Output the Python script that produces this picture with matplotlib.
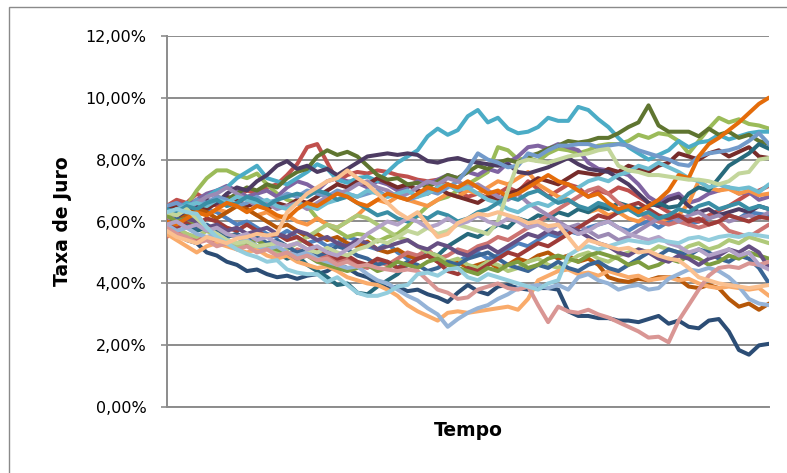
import numpy as np
import matplotlib
matplotlib.use("Agg")
import matplotlib.pyplot as plt
from matplotlib.patches import Rectangle
from matplotlib.ticker import FuncFormatter

# Simulated interest-rate paths (% values)
s01 = [6.1,6.3,6.0,6.2,6.4,6.3,6.1,5.9,6.0,5.8,5.6,5.5,5.7,5.5,5.3,5.4,5.2,5.3,5.5,5.4,5.2,5.1,5.3,5.0,4.8,4.9,5.0,4.8,4.6,4.7,4.9,5.0,4.8,4.9,5.1,5.3,5.2,5.4,5.6,5.5,5.7,5.6,5.8,5.9,6.0,5.8,5.7,5.9,6.0,5.8,6.0,6.1,5.9,6.0,6.1,6.25,6.2,6.1,6.3,6.25,6.2]
s02 = [6.5,6.7,6.6,6.9,6.7,6.5,6.6,6.8,7.0,6.9,7.1,7.2,7.5,7.85,8.4,8.5,7.9,7.3,7.5,7.6,7.55,7.65,7.6,7.5,7.45,7.35,7.3,7.35,7.2,7.0,6.8,6.9,6.75,6.9,7.1,6.95,7.3,7.05,6.8,7.0,7.2,7.1,6.8,7.0,6.9,7.1,7.0,6.8,6.6,6.5,6.3,6.2,6.1,6.0,6.2,6.35,6.5,6.7,6.9,7.0,7.15]
s03 = [6.1,6.3,6.5,7.0,7.4,7.65,7.65,7.5,7.4,7.55,7.2,6.9,6.7,6.6,6.5,6.1,5.9,5.7,5.5,5.6,5.55,5.35,5.5,5.6,5.85,6.2,6.5,6.7,6.8,7.0,7.2,7.4,7.6,8.4,8.3,8.0,8.05,7.95,8.2,8.35,8.3,8.2,8.3,8.45,8.5,8.5,8.6,8.8,8.7,8.85,8.8,8.6,8.2,8.6,9.0,9.35,9.2,9.3,9.15,9.1,9.0]
s04 = [6.4,6.6,6.5,6.7,6.9,7.0,7.15,7.0,6.8,6.9,7.0,6.8,7.1,7.3,7.2,7.0,7.3,7.4,7.3,7.25,7.1,7.3,7.2,7.0,7.1,7.3,7.2,7.35,7.5,7.4,7.6,7.5,7.7,7.6,7.9,8.1,8.4,8.45,8.35,8.5,8.4,8.3,7.9,7.7,7.65,7.6,7.5,7.2,6.8,6.6,6.8,6.9,6.6,6.7,6.9,7.0,7.1,6.9,6.95,6.7,6.8]
s05 = [6.3,6.4,6.6,6.5,6.8,7.0,7.1,7.4,7.6,7.8,7.4,7.3,7.2,7.4,7.6,7.85,7.7,7.35,7.25,7.4,7.45,7.3,7.6,7.9,8.1,8.3,8.75,9.0,8.8,8.95,9.4,9.6,9.2,9.35,9.0,8.85,8.9,9.05,9.35,9.25,9.25,9.7,9.6,9.3,9.05,8.7,8.4,8.2,8.0,8.15,8.3,8.6,8.4,8.55,8.6,8.8,8.65,8.75,8.85,8.9,8.9]
s06 = [6.0,6.2,6.1,6.3,6.2,6.4,6.3,6.5,6.4,6.2,6.3,6.1,6.2,6.0,5.9,6.1,5.9,5.8,6.0,6.2,6.5,6.7,6.6,6.8,6.7,6.6,6.5,6.7,6.9,6.8,7.0,6.9,7.1,7.3,7.2,7.4,7.6,7.2,7.0,6.8,6.7,6.5,6.3,6.4,6.2,6.3,6.1,6.0,6.2,6.0,6.1,6.2,6.6,7.3,7.1,7.0,7.05,6.9,7.0,6.85,6.9]
s07 = [5.8,5.6,5.4,5.3,5.0,4.9,4.7,4.6,4.4,4.45,4.3,4.2,4.25,4.15,4.25,4.3,4.4,4.6,4.5,4.3,4.2,4.0,3.85,3.9,3.75,3.8,3.65,3.55,3.4,3.7,3.95,3.75,3.65,3.9,3.95,3.85,3.8,3.85,3.85,3.8,3.1,2.95,2.95,2.88,2.88,2.8,2.8,2.75,2.85,2.95,2.7,2.8,2.6,2.55,2.8,2.85,2.45,1.85,1.7,2.0,2.05]
s08 = [6.4,6.5,6.3,6.5,6.4,6.6,6.8,6.7,6.5,6.6,6.4,6.6,6.5,6.7,6.6,6.8,7.0,7.2,7.1,7.3,7.2,7.4,7.25,7.1,7.2,7.0,6.9,7.1,6.9,6.8,6.7,6.6,6.8,6.7,6.9,7.0,7.2,7.4,7.3,7.2,7.4,7.6,7.55,7.5,7.7,7.6,7.8,7.7,7.6,7.8,7.9,8.2,8.1,8.0,8.2,8.3,8.1,8.25,8.4,8.1,8.05]
s09 = [6.2,6.4,6.3,6.6,6.5,6.8,6.7,6.9,7.1,7.0,7.2,7.1,7.4,7.6,7.7,8.1,8.3,8.15,8.25,8.1,7.8,7.5,7.35,7.4,7.2,7.25,7.1,7.3,7.5,7.4,7.6,7.8,7.7,7.9,8.0,7.9,8.1,8.2,8.35,8.45,8.6,8.55,8.6,8.7,8.7,8.85,9.05,9.2,9.75,9.1,8.9,8.9,8.9,8.75,9.0,8.8,8.9,8.7,8.8,8.6,8.5]
s10 = [6.2,6.0,6.3,6.5,6.7,6.6,6.9,7.1,7.0,7.3,7.5,7.8,7.95,7.7,7.8,7.6,7.7,7.5,7.7,7.9,8.1,8.15,8.2,8.15,8.2,8.15,7.95,7.9,8.0,8.05,7.95,7.9,7.85,7.8,7.85,7.6,7.55,7.65,7.75,7.9,8.05,7.85,7.7,7.65,7.6,7.4,7.2,6.9,6.6,6.5,6.7,6.8,6.5,6.3,6.4,6.2,6.3,6.4,6.3,6.5,6.4]
s11 = [6.0,6.1,5.9,5.7,5.8,5.6,5.5,5.6,5.4,5.2,5.3,5.0,4.8,4.9,4.6,4.4,4.2,3.95,4.0,3.7,3.65,3.9,4.1,4.3,4.6,4.8,5.0,4.9,5.2,5.4,5.6,5.5,5.7,5.9,5.8,6.1,6.0,6.2,6.1,6.3,6.2,6.4,6.3,6.5,6.4,6.6,6.5,6.4,6.5,6.6,6.45,6.5,6.9,7.1,7.0,7.4,7.8,8.0,8.2,8.5,8.35]
s12 = [6.2,6.0,6.2,6.4,6.3,6.1,6.3,6.5,6.4,6.2,6.0,5.8,5.9,5.7,5.5,5.6,5.4,5.5,5.3,5.2,5.35,5.1,5.0,5.1,4.9,4.8,4.9,4.7,4.6,4.7,4.5,4.6,4.7,4.5,4.6,4.8,4.7,4.9,5.0,4.8,4.9,4.7,4.8,4.6,4.2,4.1,4.05,4.15,4.1,4.2,4.2,4.15,3.9,3.85,3.95,3.85,3.5,3.25,3.35,3.15,3.35]
s13 = [6.5,6.6,6.4,6.7,6.6,6.8,6.7,6.5,6.6,6.8,6.6,6.7,6.9,6.8,7.0,6.9,6.8,7.0,6.9,6.8,6.9,7.0,6.8,6.9,6.7,6.8,7.0,6.9,7.1,7.3,7.7,8.2,8.0,7.9,7.75,7.8,8.2,8.1,8.3,8.45,8.45,8.5,8.5,8.4,8.45,8.5,8.45,8.3,8.2,8.1,8.0,7.85,7.8,8.1,8.2,8.25,8.3,8.4,8.6,8.85,8.5]
s14 = [5.5,5.7,5.6,5.4,5.5,5.3,5.4,5.2,5.3,5.1,5.2,5.0,4.9,5.1,5.0,4.8,4.9,4.7,4.8,4.6,4.5,4.7,4.6,4.8,5.0,4.9,5.1,4.8,4.9,5.1,5.0,5.2,5.3,5.5,5.4,5.6,5.8,6.0,6.2,6.4,6.6,6.8,7.0,7.1,6.9,6.6,6.4,6.3,6.1,6.0,5.9,6.0,5.9,5.8,5.9,6.0,5.7,5.6,5.5,5.7,5.9]
s15 = [6.0,5.8,5.6,5.5,5.7,5.5,5.3,5.2,5.3,5.1,5.2,5.0,5.1,5.3,5.5,5.7,5.9,5.8,6.0,6.2,6.1,5.9,5.7,5.5,5.4,5.2,5.0,4.9,4.7,4.8,4.6,4.5,4.7,4.6,4.4,4.5,4.7,4.8,4.6,4.5,4.7,4.9,5.0,4.8,4.7,4.9,5.0,5.1,5.0,5.2,5.1,5.0,5.2,5.3,5.1,5.2,5.4,5.3,5.5,5.4,5.3]
s16 = [6.0,6.2,6.4,6.6,6.8,6.9,7.1,6.9,6.7,6.5,6.6,6.4,6.5,6.6,6.4,6.6,6.8,6.9,7.0,7.2,7.3,7.1,7.0,6.8,6.9,7.1,7.3,7.2,7.4,7.3,7.1,7.2,7.0,6.8,6.7,6.9,6.6,6.4,6.2,6.0,5.8,5.9,5.7,5.5,5.6,5.4,5.5,5.7,5.9,6.1,6.2,6.0,6.2,6.3,6.1,6.2,6.0,6.1,6.2,6.1,6.3]
s17 = [6.2,6.4,6.5,6.6,6.5,6.7,6.6,6.8,6.7,6.6,6.7,6.5,6.4,6.6,6.5,6.4,6.6,6.7,6.9,6.8,7.0,6.9,6.8,6.9,7.0,6.8,6.9,7.1,7.2,7.0,7.1,6.9,6.7,6.6,6.4,6.3,6.5,6.6,6.5,6.7,6.9,7.1,7.3,7.4,7.3,7.5,7.6,7.8,7.7,7.9,7.75,7.6,7.4,7.3,7.1,7.2,7.1,7.05,7.1,6.95,7.2]
s18 = [5.6,5.4,5.2,5.0,5.2,5.3,5.2,5.1,5.0,5.1,4.9,4.8,4.9,4.7,4.6,4.5,4.55,4.4,4.2,4.1,4.0,3.95,3.8,3.6,3.3,3.1,2.95,2.8,3.05,3.1,3.05,3.1,3.15,3.2,3.25,3.15,3.5,4.1,4.25,4.4,4.45,4.3,4.35,4.25,4.4,4.3,4.2,4.25,4.1,4.15,4.2,4.1,4.15,4.0,3.9,3.85,3.9,3.85,3.8,3.85,3.6]
s19 = [5.9,6.1,6.0,5.8,5.9,5.7,5.5,5.6,5.4,5.5,5.3,5.4,5.2,5.0,5.1,4.9,5.0,5.2,5.1,4.9,4.8,4.6,4.7,4.5,4.7,4.6,4.4,4.5,4.7,4.6,4.8,4.9,5.0,4.8,4.6,4.5,4.4,4.6,4.5,4.7,4.5,4.4,4.6,4.7,4.5,4.4,4.6,4.8,5.0,4.9,5.1,5.0,4.9,5.1,5.0,4.8,4.7,4.9,4.8,4.5,4.0]
s20 = [6.0,5.8,6.0,5.9,6.1,6.0,5.8,5.7,5.9,5.7,5.5,5.6,5.4,5.5,5.3,5.1,5.0,4.8,4.9,4.7,4.6,4.8,4.7,4.5,4.6,4.8,4.9,4.7,4.4,4.3,4.5,4.4,4.6,4.8,5.0,4.9,5.1,5.3,5.2,5.4,5.6,5.8,6.0,6.2,6.1,6.3,6.5,6.6,6.4,6.2,6.1,6.2,6.0,6.1,5.9,6.0,6.2,6.1,6.0,6.15,6.1]
s21 = [6.2,6.0,6.1,5.9,5.7,5.8,5.6,5.5,5.3,5.4,5.2,5.1,5.0,4.8,4.9,4.7,4.6,4.5,4.4,4.5,4.6,4.4,4.5,4.7,4.6,4.5,4.7,4.8,4.6,4.5,4.4,4.3,4.5,4.4,4.6,4.7,4.5,4.6,4.8,4.9,4.8,4.7,4.9,5.0,4.9,4.8,4.6,4.7,4.5,4.6,4.8,4.7,4.9,4.8,4.6,4.7,4.9,4.8,5.0,4.9,4.8]
s22 = [6.0,5.9,6.1,6.0,5.8,5.9,5.7,5.8,5.6,5.7,5.8,5.6,5.5,5.7,5.6,5.4,5.5,5.3,5.2,5.4,5.3,5.1,5.2,5.3,5.4,5.2,5.1,5.3,5.2,5.0,4.9,5.1,5.2,5.0,5.2,5.4,5.6,5.5,5.7,5.6,5.8,5.7,5.5,5.3,5.2,5.0,4.9,5.1,5.0,4.8,4.7,4.9,4.8,4.6,4.8,4.9,5.1,5.0,5.2,5.0,4.5]
s23 = [6.4,6.3,6.5,6.4,6.6,6.7,6.5,6.6,6.8,6.7,6.5,6.7,6.8,6.9,6.8,7.0,6.9,6.7,6.8,6.6,6.4,6.2,6.3,6.1,6.0,6.2,6.1,6.3,6.2,6.0,6.1,6.3,6.4,6.6,6.8,6.7,6.9,7.0,6.8,6.6,6.7,6.5,6.4,6.6,6.5,6.3,6.4,6.2,6.3,6.1,6.2,6.4,6.3,6.5,6.6,6.4,6.5,6.6,6.4,6.5,6.4]
s24 = [6.0,5.9,6.1,6.3,6.2,6.4,6.6,6.5,6.3,6.5,6.4,6.2,6.1,6.4,6.6,6.5,6.7,6.9,6.8,6.6,6.5,6.7,6.9,6.8,6.7,6.9,7.1,7.0,7.2,7.1,7.3,7.1,6.9,7.0,6.8,6.9,7.1,7.3,7.5,7.3,7.2,7.0,6.8,6.9,6.6,6.4,6.5,6.3,6.5,6.7,7.0,7.5,7.4,8.1,8.5,8.7,8.95,9.2,9.5,9.8,10.0]
s25 = [5.9,5.7,5.8,5.6,5.5,5.6,5.4,5.3,5.4,5.2,5.1,5.2,5.0,4.9,5.0,4.8,4.7,4.6,4.5,4.55,4.3,4.1,4.0,3.8,3.6,3.45,3.2,3.0,2.6,2.85,3.05,3.2,3.3,3.5,3.65,3.85,3.9,3.95,3.85,3.95,3.8,4.2,4.3,4.1,4.0,3.8,3.9,3.95,3.8,3.85,4.15,4.3,4.45,4.4,4.5,4.4,4.2,3.9,3.5,3.35,3.3]
s26 = [5.8,5.6,5.5,5.3,5.4,5.2,5.3,5.1,5.2,5.0,5.1,4.9,5.0,4.8,4.9,4.75,4.8,4.6,4.7,4.55,4.6,4.5,4.45,4.4,4.45,4.4,4.1,3.8,3.7,3.5,3.55,3.8,3.9,4.0,3.85,3.8,3.9,3.3,2.75,3.25,3.1,3.05,3.15,3.0,2.9,2.75,2.6,2.45,2.25,2.28,2.1,2.8,3.3,3.8,4.25,4.5,4.55,4.5,4.65,4.6,4.7]
s27 = [6.3,6.2,6.4,6.1,5.8,5.6,5.4,5.3,5.35,5.2,5.25,5.3,5.2,5.3,5.1,5.0,5.15,5.0,4.9,5.1,5.2,5.4,5.3,5.5,5.7,5.6,5.8,5.6,5.7,5.9,5.8,5.7,5.6,6.0,7.0,7.9,8.0,7.95,7.9,8.0,8.1,8.15,8.2,8.3,8.35,7.8,7.65,7.6,7.5,7.5,7.45,7.4,7.35,7.35,7.3,7.2,7.3,7.55,7.6,8.0,8.05]
s28 = [5.9,6.0,5.8,5.9,5.7,5.8,5.6,5.5,5.6,5.4,5.5,5.3,5.2,5.3,5.1,5.2,5.0,4.9,5.1,5.3,5.6,5.8,6.0,5.9,6.1,6.0,5.8,5.9,6.1,5.9,6.0,6.2,6.0,5.9,6.1,6.0,5.8,5.9,5.7,5.9,5.8,5.6,5.7,5.9,6.0,5.8,5.6,5.5,5.4,5.5,5.3,5.2,5.0,5.1,4.9,5.0,5.1,4.9,5.0,4.6,4.45]
s29 = [6.3,6.4,6.3,6.25,5.8,5.5,5.3,5.1,4.95,4.85,4.7,4.75,4.45,4.35,4.3,4.3,4.05,4.2,3.95,3.7,3.6,3.6,3.7,3.9,3.95,4.3,4.35,4.25,4.45,4.5,4.2,4.1,4.3,4.2,4.1,4.0,3.9,3.8,4.0,4.1,4.9,5.1,5.2,5.1,5.2,5.3,5.4,5.35,5.3,5.4,5.35,5.3,5.45,5.5,5.4,5.5,5.55,5.5,5.6,5.55,5.5]
s30 = [5.7,5.5,5.4,5.3,5.5,5.4,5.3,5.45,5.5,5.6,5.55,5.6,6.3,6.6,6.9,7.1,7.3,7.4,7.65,7.4,7.2,6.9,6.6,6.3,6.1,6.3,5.9,5.5,5.6,5.95,6.1,6.25,6.2,6.3,6.2,6.1,5.95,6.0,5.85,5.9,5.5,5.1,5.4,5.3,5.2,5.1,5.15,5.0,5.05,4.9,4.8,4.75,4.5,4.2,4.1,4.0,3.95,3.9,3.85,3.9,3.95]

series = [s01, s02, s03, s04, s05, s06, s07, s08, s09, s10,
          s11, s12, s13, s14, s15, s16, s17, s18, s19, s20,
          s21, s22, s23, s24, s25, s26, s27, s28, s29, s30]

colors = ['#4F81BD', '#C0504D', '#9BBB59', '#8064A2', '#4BACC6', '#F79646',
          '#2C4D75', '#772C2A', '#5F7530', '#4D3B62', '#276A7C', '#B65708',
          '#729ACA', '#CD7371', '#AFC97A', '#9C8AB4', '#6FBDD1', '#F9AB6B',
          '#3A6595', '#9E3B38', '#7E9D40', '#664F83', '#3A8EA5', '#E46C0A',
          '#95B3D7', '#D99694', '#C3D69B', '#B3A2C7', '#93CDDD', '#FAC090']

yticks = [0, 2, 4, 6, 8, 10, 12]

W, H = 787, 473
fig = plt.figure(figsize=(W / 100, H / 100), dpi=100)
fig.patch.set_facecolor('white')

# chart-area border (cropped on right/bottom)
fig.patches.append(Rectangle((8.5 / W, -0.2), 1.5, 1.2 - 6.7 / H + 0.0,
                             transform=fig.transFigure, fill=False,
                             edgecolor='#8a8a8a', lw=1.0))

ax = fig.add_axes([166.6 / W, 1 - 407.3 / H, (769 - 166.6) / W, (407.3 - 35.7) / H])

for s, c in zip(series, colors):
    x = np.arange(len(s))
    ax.plot(x, s, color=c, lw=2.9, solid_joinstyle='round', solid_capstyle='round', zorder=3)

ax.set_xlim(0, 60)
ax.set_ylim(0, 12)
ax.set_yticks(yticks)
ax.yaxis.set_major_formatter(FuncFormatter(lambda v, p: f"{v:.2f}%".replace('.', ',')))
ax.set_xticks([])
ax.grid(axis='y', color='#8c8c8c', lw=1.4, zorder=0)
ax.set_axisbelow(True)
for side in ['top', 'right']:
    ax.spines[side].set_visible(False)
ax.spines['left'].set_color('#8c8c8c')
ax.spines['left'].set_linewidth(1.4)
ax.spines['bottom'].set_color('#8c8c8c')
ax.spines['bottom'].set_linewidth(1.4)
ax.tick_params(axis='y', length=4.5, width=1.2, color='#8c8c8c', pad=10,
               labelsize=11.5, labelcolor='black')
for lab in ax.get_yticklabels():
    lab.set_family('DejaVu Sans')

fig.text(468 / W, 1 - 430 / H, 'Tempo', ha='center', va='center',
         fontsize=13.5, fontweight='bold', family='DejaVu Sans')
fig.text(62 / W, 1 - 221.5 / H, 'Taxa de Juro', ha='center', va='center',
         rotation=90, fontsize=13.5, fontweight='bold', family='DejaVu Sans')

fig.savefig('out.png', dpi=100, facecolor='white')
